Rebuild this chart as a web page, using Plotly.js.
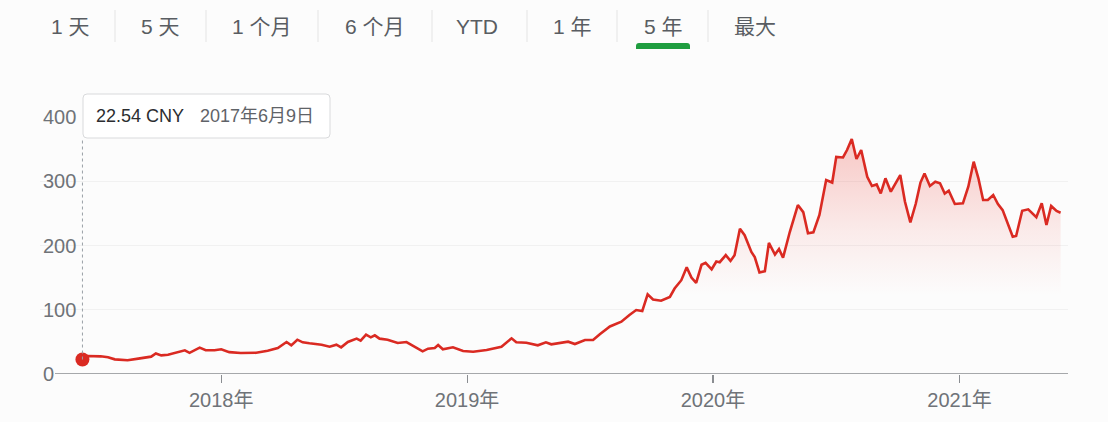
<!DOCTYPE html>
<html>
<head>
<meta charset="utf-8">
<script src="https://cdn.plot.ly/plotly-3.0.1.min.js"></script>
<style>
  html, body { margin: 0; padding: 0; background: #fcfcfc; }
  #chart { width: 1108px; height: 422px; }
</style>
</head>
<body>
<div id="chart"></div>
<script>
// Weekly closing prices (CNY)
const dates = [
  '2017-06-09','2017-06-16','2017-07-06','2017-07-17','2017-07-27','2017-08-15','2017-08-31','2017-09-19',
  '2017-09-26','2017-10-04','2017-10-14','2017-10-29','2017-11-08','2017-11-15','2017-11-30','2017-12-09',
  '2017-12-22','2018-01-01','2018-01-13','2018-01-30','2018-02-22','2018-03-11','2018-03-26','2018-04-08',
  '2018-04-15','2018-04-24','2018-05-02','2018-05-12','2018-05-30','2018-06-11','2018-06-21','2018-06-28',
  '2018-07-08','2018-07-21','2018-07-27','2018-08-04','2018-08-11','2018-08-17','2018-08-24','2018-09-05',
  '2018-09-20','2018-10-03','2018-10-15','2018-10-27','2018-11-04','2018-11-14','2018-11-19','2018-11-26',
  '2018-12-11','2018-12-26','2019-01-10','2019-01-30','2019-02-21','2019-03-08','2019-03-15','2019-03-30',
  '2019-04-16','2019-04-28','2019-05-06','2019-05-16','2019-05-31','2019-06-10','2019-06-25','2019-07-07',
  '2019-07-17','2019-08-01','2019-08-18','2019-08-30','2019-09-09','2019-09-18','2019-09-26','2019-10-04',
  '2019-10-16','2019-10-29','2019-11-05','2019-11-15','2019-11-23','2019-11-30','2019-12-07','2019-12-15',
  '2019-12-21','2019-12-30','2020-01-06','2020-01-11','2020-01-20','2020-01-27','2020-02-02','2020-02-10',
  '2020-02-17','2020-02-27','2020-03-03','2020-03-10','2020-03-18','2020-03-24','2020-04-02','2020-04-08',
  '2020-04-14','2020-04-24','2020-05-06','2020-05-14','2020-05-21','2020-05-29','2020-06-07','2020-06-17',
  '2020-06-26','2020-07-02','2020-07-12','2020-07-18','2020-07-25','2020-08-01','2020-08-08','2020-08-17',
  '2020-08-24','2020-08-31','2020-09-06','2020-09-13','2020-09-21','2020-10-05','2020-10-12','2020-10-20',
  '2020-10-28','2020-11-04','2020-11-10','2020-11-18','2020-11-26','2020-12-03','2020-12-10','2020-12-16',
  '2020-12-25','2021-01-06','2021-01-14','2021-01-22','2021-01-29','2021-02-05','2021-02-12','2021-02-20',
  '2021-02-27','2021-03-06','2021-03-14','2021-03-21','2021-03-26','2021-04-04','2021-04-13','2021-04-25',
  '2021-05-03','2021-05-10','2021-05-17','2021-05-25','2021-05-31'
];
const prices = [
  22.54, 28, 27.5, 26, 22.8, 21.3, 23.9, 27,
  32, 29, 30, 33.7, 36.9, 33, 41, 37,
  37, 38.4, 34, 32.7, 33, 36.3, 40.5, 49.8,
  44.6, 53.4, 49.3, 47.8, 45.6, 42.5, 45.6, 41.5,
  49.8, 55, 51.8, 61.2, 57.1, 60.2, 55, 53.4,
  48.2, 49.8, 43.1, 35.3, 39.4, 40.5, 45, 38.4,
  41.5, 35.8, 34.7, 37.4, 42.5, 55.5, 49.3, 48.7,
  44.6, 49.3, 46.2, 47.8, 50.3, 46.7, 52.9, 52.9,
  62, 74, 81.4, 91.8, 99.6, 98, 124, 116,
  114, 120, 133, 146, 166, 150, 142, 170,
  173, 163, 175, 174, 185, 176, 185, 226,
  216, 190, 182, 158, 160, 204, 186, 194.6,
  181, 221, 263, 252, 219, 220.5, 247.5, 302,
  298, 338, 337, 348.6, 365.8, 334.6, 348.6, 307,
  292.6, 295, 281, 304.6, 283.8, 309.7, 268, 236,
  265, 298, 312, 292.6, 299.3, 296.8, 281, 285.3,
  264.6, 265.7, 291.5, 330.4, 304.6, 270.8, 270.8, 278.6,
  264.6, 255, 234.5, 213.7, 214.8, 254, 256.3, 243.9,
  265.7, 232, 261.5, 253.7, 251
];

// Axis ticks
const yTicks = [0, 100, 200, 300, 400];
const xTickDates = ['2018-01-01', '2019-01-01', '2020-01-01', '2021-01-01'];
const xTickLabels = ['2018年', '2019年', '2020年', '2021年'];

// Range selector tabs
const tabLabels = ['1 天', '5 天', '1 个月', '6 个月', 'YTD', '1 年', '5 年', '最大'];
const activeTab = '5 年';
const currency = 'CNY';

// ---- layout geometry (pixels) ----
const W = 1108, H = 422;
const M = { l: 40, r: 40, t: 117, b: 48 };
const plotW = W - M.l - M.r, plotH = H - M.t - M.b;
const px = x => (x - M.l) / plotW;               // pixel x -> paper x
const py = y => (H - M.b - y) / plotH;           // pixel y -> paper y

const RED = '#da2a22';
const FONT = 'Liberation Sans, Arial, Noto Sans CJK SC, sans-serif';

function roundRectPath(x0, y0, x1, y1, r, roundBottom) {
  const rx = r / plotW, ry = r / plotH;
  const X0 = px(x0), X1 = px(x1), T = py(y0), B = py(y1);
  let p = `M ${X0},${B + (roundBottom ? ry : 0)} L ${X0},${T - ry} Q ${X0},${T} ${X0 + rx},${T} ` +
          `L ${X1 - rx},${T} Q ${X1},${T} ${X1},${T - ry} L ${X1},${B + (roundBottom ? ry : 0)} `;
  if (roundBottom) {
    p += `Q ${X1},${B} ${X1 - rx},${B} L ${X0 + rx},${B} Q ${X0},${B} ${X0},${B + ry} `;
  } else {
    p += `L ${X0},${B} `;
  }
  return p + 'Z';
}

const traces = [
  {
    x: dates, y: prices, type: 'scatter', mode: 'lines',
    line: { color: RED, width: 2.6 },
    fill: 'tozeroy',
    fillgradient: {
      type: 'vertical', start: 0, stop: 370,
      colorscale: [
        [0, 'rgba(234,60,50,0)'],
        [0.33, 'rgba(234,60,50,0)'],
        [0.6, 'rgba(234,60,50,0.09)'],
        [1, 'rgba(234,60,50,0.28)']
      ]
    },
    hoverinfo: 'skip'
  },
  {
    x: [dates[0]], y: [prices[0]], type: 'scatter', mode: 'markers',
    marker: { color: RED, size: 14 },
    hoverinfo: 'skip'
  }
];

// tooltip date text, e.g. 2017年6月9日
const [yy, mm, dd] = dates[0].split('-').map(Number);
const firstDateLabel = `${yy}年${mm}月${dd}日`;

const tabCenters = [70, 160, 262, 375, 477, 572, 663, 755];
const separators = [115, 206, 318, 432, 527, 617, 708];

const shapes = [];
separators.forEach(x => shapes.push({
  type: 'line', xref: 'paper', yref: 'paper',
  x0: px(x), x1: px(x), y0: py(10), y1: py(42),
  line: { color: '#e4e4e4', width: 1 }
}));
// active tab marker
const ai = tabLabels.indexOf(activeTab);
shapes.push({
  type: 'path', xref: 'paper', yref: 'paper',
  path: roundRectPath(tabCenters[ai] - 27, 43, tabCenters[ai] + 27, 49, 3, false),
  fillcolor: '#1f9d3f', line: { width: 0 }
});
// x baseline
shapes.push({
  type: 'line', xref: 'paper', yref: 'y',
  x0: px(55), x1: 1, y0: 0, y1: 0,
  line: { color: '#8a8d91', width: 1.3 }, layer: 'above'
});
// crosshair from the tooltip down to the first point
shapes.push({
  type: 'line', xref: 'x', yref: 'y',
  x0: dates[0], x1: dates[0], y0: prices[0], y1: (H - M.b - 139) / plotH * 400,
  line: { color: '#9aa0a6', width: 1, dash: 'dot' }, layer: 'above'
});
// tooltip box
shapes.push({
  type: 'path', xref: 'paper', yref: 'paper',
  path: roundRectPath(83, 94, 330, 138, 4, true),
  fillcolor: '#ffffff', line: { color: '#d9dadc', width: 1 }, layer: 'above'
});

const annotations = tabLabels.map((t, i) => ({
  text: t, xref: 'paper', yref: 'paper', x: px(tabCenters[i]), y: py(27),
  xanchor: 'center', yanchor: 'middle', showarrow: false,
  font: { family: FONT, size: 21, color: '#595d62' }
}));
annotations.push({
  text: `${prices[0].toFixed(2)} ${currency}`, xref: 'paper', yref: 'paper',
  x: px(94), y: py(116), xanchor: 'left', yanchor: 'middle', showarrow: false,
  font: { family: FONT, size: 18, color: '#2b2d30' }
});
annotations.push({
  text: firstDateLabel, xref: 'paper', yref: 'paper',
  x: px(198), y: py(116), xanchor: 'left', yanchor: 'middle', showarrow: false,
  font: { family: FONT, size: 18, color: '#5f6368' }
});

const layout = {
  width: W, height: H, margin: M,
  paper_bgcolor: '#fcfcfc', plot_bgcolor: '#fcfcfc',
  showlegend: false, hovermode: false,
  font: { family: FONT },
  xaxis: {
    type: 'date', range: ['2017-04-07', '2021-06-11'],
    tickvals: xTickDates, ticktext: xTickLabels,
    ticks: 'outside', ticklen: 8, tickwidth: 1.2, tickcolor: '#8a8d91',
    showgrid: false, zeroline: false, showline: false,
    tickfont: { family: FONT, size: 20, color: '#6f7378' }
  },
  yaxis: {
    range: [0, 400], tickvals: yTicks,
    ticklabelposition: 'inside', ticklabeloverflow: 'allow',
    ticks: '', showgrid: true, gridcolor: '#f1f1f1', gridwidth: 1,
    zeroline: false, showline: false,
    tickfont: { family: FONT, size: 20, color: '#6f7378' }
  },
  shapes, annotations
};

Plotly.newPlot('chart', traces, layout, { staticPlot: true, displayModeBar: false });
</script>
</body>
</html>
